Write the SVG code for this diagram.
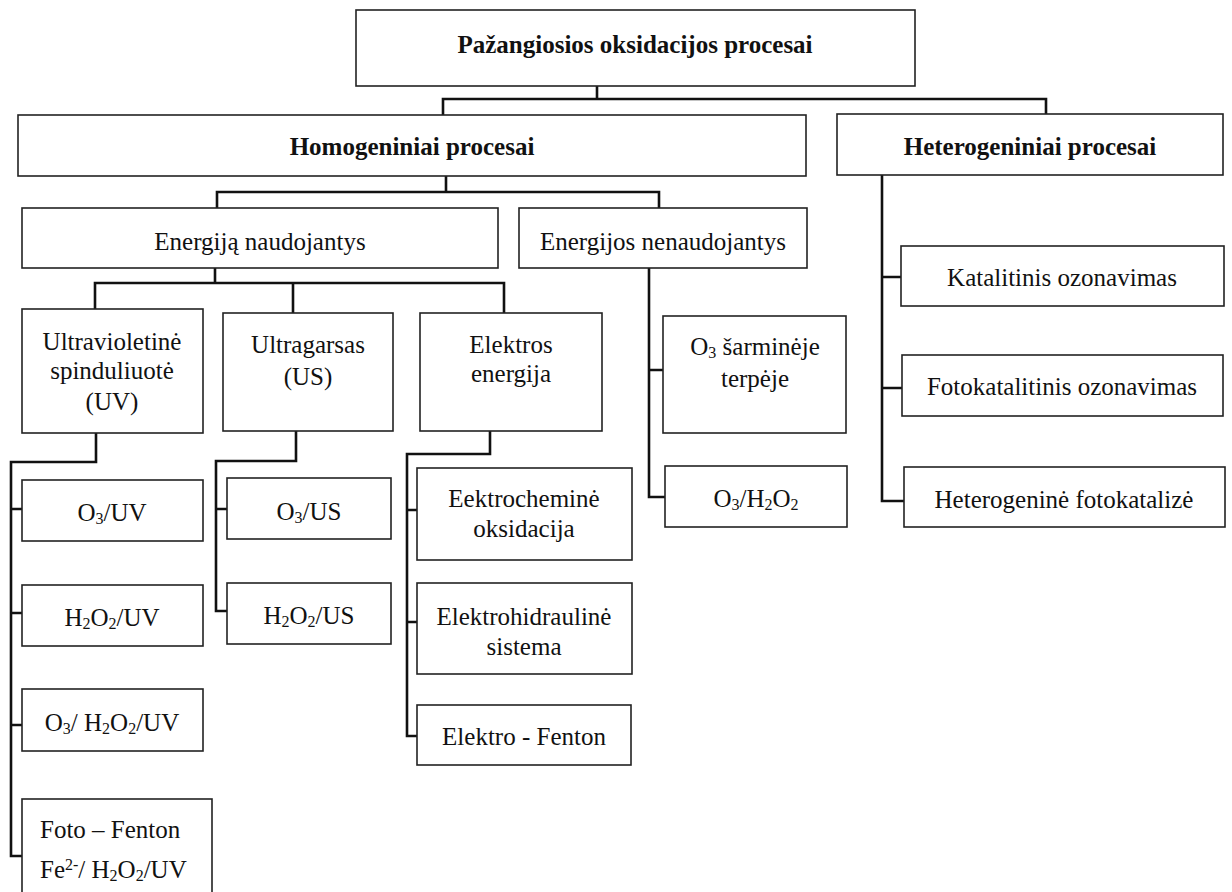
<svg xmlns="http://www.w3.org/2000/svg" width="1232" height="892" viewBox="0 0 1232 892">
<style>
.bx{fill:#fff;stroke:#222;stroke-width:1.6}
.t{font-family:"Liberation Serif","Times New Roman",serif;font-size:25px;fill:#111;text-anchor:middle}
.l{text-anchor:start}
.b{font-weight:bold}
.s{font-size:16px}
.c{fill:none;stroke:#111;stroke-width:2.6;stroke-linejoin:miter}
</style>
<rect width="1232" height="892" fill="#fff"/>
<g id="connectors">
<path class="c" d="M597 86V99M443 115V99H1046V115"/>
<path class="c" d="M446 176V192M217 208V192H659V208"/>
<path class="c" d="M215 268V283M95 309V283H504V313M293 283V313"/>
<path class="c" d="M96 433V462H11V856H22M11 509H22M11 613H22M11 725H22"/>
<path class="c" d="M296 431V461H216V611H227M216 509H227"/>
<path class="c" d="M490 431V454H407V736H417M407 510H417M407 622H417"/>
<path class="c" d="M649 268V497H665M649 370H663"/>
<path class="c" d="M882 175V501H904M882 277H901M882 388H902"/>
</g>
<g id="n-root"><rect class="bx" x="356" y="10" width="559" height="76"/><text class="t b" x="635" y="53">Pažangiosios oksidacijos procesai</text></g>
<g id="n-homo"><rect class="bx" x="18" y="115" width="788" height="61"/><text class="t b" x="412" y="155">Homogeniniai procesai</text></g>
<g id="n-hetero"><rect class="bx" x="837" y="114" width="386" height="61"/><text class="t b" x="1030" y="155">Heterogeniniai procesai</text></g>
<g id="n-energ"><rect class="bx" x="22" y="208" width="476" height="60"/><text class="t" x="260" y="250">Energiją naudojantys</text></g>
<g id="n-nenerg"><rect class="bx" x="519" y="208" width="288" height="60"/><text class="t" x="663" y="250">Energijos nenaudojantys</text></g>
<g id="n-uv"><rect class="bx" x="22" y="309" width="181" height="124"/><text class="t" x="112" y="350">Ultravioletinė</text><text class="t" x="112" y="379">spinduliuotė</text><text class="t" x="112" y="410">(UV)</text></g>
<g id="n-us"><rect class="bx" x="223" y="313" width="170" height="118"/><text class="t" x="308" y="353">Ultragarsas</text><text class="t" x="308" y="385">(US)</text></g>
<g id="n-el"><rect class="bx" x="420" y="313" width="182" height="118"/><text class="t" x="511" y="353">Elektros</text><text class="t" x="511" y="382">energija</text></g>
<g id="n-o3sarm"><rect class="bx" x="663" y="316" width="183" height="117"/><text class="t" x="755" y="355">O<tspan class="s" dy="3">3</tspan><tspan dy="-3"> šarminėje</tspan></text><text class="t" x="755" y="387">terpėje</text></g>
<g id="n-o3h2o2"><rect class="bx" x="665" y="466" width="182" height="61"/><text class="t" x="756" y="507">O<tspan class="s" dy="3">3</tspan><tspan dy="-3">/H</tspan><tspan class="s" dy="3">2</tspan><tspan dy="-3">O</tspan><tspan class="s" dy="3">2</tspan></text></g>
<g id="n-o3uv"><rect class="bx" x="22" y="480" width="181" height="61"/><text class="t" x="112" y="521">O<tspan class="s" dy="3">3</tspan><tspan dy="-3">/UV</tspan></text></g>
<g id="n-h2o2uv"><rect class="bx" x="22" y="585" width="181" height="61"/><text class="t" x="112" y="626">H<tspan class="s" dy="3">2</tspan><tspan dy="-3">O</tspan><tspan class="s" dy="3">2</tspan><tspan dy="-3">/UV</tspan></text></g>
<g id="n-o3h2o2uv"><rect class="bx" x="22" y="689" width="181" height="62"/><text class="t" x="112" y="731">O<tspan class="s" dy="3">3</tspan><tspan dy="-3">/ H</tspan><tspan class="s" dy="3">2</tspan><tspan dy="-3">O</tspan><tspan class="s" dy="3">2</tspan><tspan dy="-3">/UV</tspan></text></g>
<g id="n-fotofenton"><rect class="bx" x="22" y="799" width="190" height="100"/><text class="t l" x="40" y="838">Foto – Fenton</text><text class="t l" x="40" y="878">Fe<tspan class="s" dy="-8">2-</tspan><tspan dy="8">/ H</tspan><tspan class="s" dy="3">2</tspan><tspan dy="-3">O</tspan><tspan class="s" dy="3">2</tspan><tspan dy="-3">/UV</tspan></text></g>
<g id="n-o3us"><rect class="bx" x="227" y="478" width="164" height="61"/><text class="t" x="309" y="520">O<tspan class="s" dy="3">3</tspan><tspan dy="-3">/US</tspan></text></g>
<g id="n-h2o2us"><rect class="bx" x="227" y="583" width="164" height="61"/><text class="t" x="309" y="624">H<tspan class="s" dy="3">2</tspan><tspan dy="-3">O</tspan><tspan class="s" dy="3">2</tspan><tspan dy="-3">/US</tspan></text></g>
<g id="n-elchem"><rect class="bx" x="417" y="468" width="215" height="92"/><text class="t" x="524" y="507">Eektrocheminė</text><text class="t" x="524" y="537">oksidacija</text></g>
<g id="n-elhidr"><rect class="bx" x="417" y="583" width="215" height="91"/><text class="t" x="524" y="625">Elektrohidraulinė</text><text class="t" x="524" y="655">sistema</text></g>
<g id="n-elfenton"><rect class="bx" x="417" y="705" width="214" height="60"/><text class="t" x="524" y="745">Elektro - Fenton</text></g>
<g id="n-katal"><rect class="bx" x="901" y="246" width="323" height="60"/><text class="t" x="1062" y="286">Katalitinis ozonavimas</text></g>
<g id="n-fotokatal"><rect class="bx" x="902" y="355" width="321" height="61"/><text class="t" x="1062" y="395">Fotokatalitinis ozonavimas</text></g>
<g id="n-hetfoto"><rect class="bx" x="904" y="467" width="321" height="60"/><text class="t" x="1064" y="508">Heterogeninė fotokatalizė</text></g>
</svg>
